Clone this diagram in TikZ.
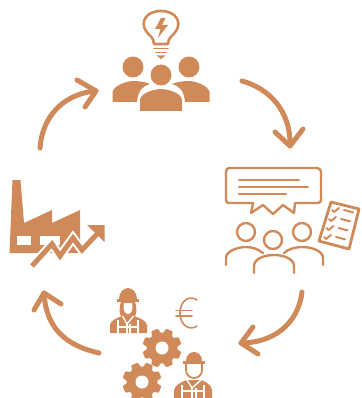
\documentclass[tikz,border=0pt]{standalone}
\definecolor{cop}{HTML}{D08A59}
\tikzset{
 x=1pt,y=-1pt,
 outl/.style={draw=cop,line width=2.4pt,line cap=round,line join=round,fill=none},
 thinl/.style={draw=cop,line width=2pt,line cap=round,line join=round,fill=none},
 cyc/.style={draw=cop,line width=5pt,line cap=round,line join=round,fill=none},
 gap/.style={draw=white,line width=1.3pt},
}
\newcommand{\gearshape}[2]{%
 \fill[cop] (#1,#2) circle (15.5);
 \foreach \a in {0,45,...,315}{
  \fill[cop,rounded corners=1pt,shift={(#1,#2)},rotate=\a+22.5] (13,-5) -- (19.5,-3.6) -- (19.5,3.6) -- (13,5) -- cycle;
 }
 \fill[white] (#1,#2) circle (6.5);}
\begin{document}
\begin{tikzpicture}
\useasboundingbox (0,0) rectangle (361,398);
% cycle arrows
\coordinate (a1s) at (242,81); \coordinate (a1e) at (290,146);
\draw[cyc] (a1s) .. controls (268,88) and (291,110) .. (a1e);
\draw[cyc] (275,132) -- (a1e) -- (303,129);
\coordinate (a2s) at (40,148); \coordinate (a2e) at (96,91);
\draw[cyc] (a2s) .. controls (42,118) and (62,94) .. (a2e);
\draw[cyc] (77,80) -- (a2e) -- (85,107);
\coordinate (a3s) at (302,292); \coordinate (a3e) at (241,343);
\draw[cyc] (a3s) .. controls (298,325) and (272,343) .. (a3e);
\draw[cyc] (253,327) -- (a3e) -- (258,354);
\coordinate (a4s) at (99,353); \coordinate (a4e) at (44,293);
\draw[cyc] (a4s) .. controls (68,346) and (46,330) .. (a4e);
\draw[cyc] (34,310) -- (a4e) -- (61,304);
% top: bulb
\draw[thinl,line width=2.6pt] (154,44) .. controls (154,37) and (149,36) .. (146,31)
 .. controls (140,22) and (146,11) .. (161,11) .. controls (176,11) and (182,22) .. (176,31)
 .. controls (173,36) and (168,37) .. (168,44) -- cycle;
\draw[thinl,line width=1.8pt] (154,48.5) -- (168,48.5) (156,52.5) -- (166,52.5);
\fill[cop] (156.5,55.5) -- (165.5,55.5) -- (161,59) -- cycle;
\fill[cop] (161,18) -- (155,29) -- (160.5,29) -- (158,38) -- (168,25) -- (162,25) -- (165.5,18) -- cycle;
% top: people
\fill[cop] (133,67) circle (10.5);
\fill[cop] (189,67) circle (10.5);
\fill[cop] (161,75) circle (10.5);
\fill[cop] (112.5,102) -- (112.5,92) .. controls (114,85) and (128,81) .. (133,81) .. controls (139,81) and (146,82) .. (150,84) .. controls (143,86) and (138,90) .. (137,102) -- cycle;
\fill[cop] (209.5,102) -- (209.5,92) .. controls (208,85) and (194,81) .. (189,81) .. controls (183,81) and (176,82) .. (172,84) .. controls (179,86) and (184,90) .. (185,102) -- cycle;
\fill[cop] (140,111) -- (140,100) .. controls (140,93) and (155,89) .. (161,89) .. controls (167,89) and (182,93) .. (182,100) -- (182,111) -- cycle;
% right: speech bubble
\draw[outl] (229,168) -- (317,168) .. controls (320,168) and (321,170) .. (321,172) -- (321,200) .. controls (321,202) and (320,203) .. (317,203)
 -- (295,203) -- (294,213) -- (283,205) -- (273,214) -- (263,205) -- (251,213) -- (253,203) -- (229,203)
 .. controls (227,203) and (226,202) .. (226,200) -- (226,172) .. controls (226,170) and (227,168) .. (229,168) -- cycle;
\draw[outl] (239,180) -- (299,180) (239,187) -- (308,187) (239,194) -- (286,194);
% right: people
\draw[outl] (246,232) circle (9);
\draw[outl] (273,240) circle (9);
\draw[outl] (302,232) circle (9);
\draw[outl] (226,265) -- (226,258) .. controls (226,251) and (238,247) .. (246,247) .. controls (252,247) and (258,249) .. (263,253);
\draw[outl] (323,265) -- (323,258) .. controls (323,251) and (312,247) .. (302,247) .. controls (296,247) and (288,249) .. (284,253);
\draw[outl] (254,273) -- (254,266) .. controls (254,259) and (264,255) .. (274,255) .. controls (284,255) and (294,259) .. (294,266) -- (294,273);
% right: checklist
\draw[outl,line width=2.8pt] (331,202) -- (359,209) -- (349,249) -- (319,241) -- cycle;
\foreach \xa/\ya in {332/210,329/219,326.5/228,324/237}{
 \draw[thinl] (\xa,\ya) -- (\xa+2,\ya+2) -- (\xa+7,\ya-2);
 \draw[thinl] (\xa+12,\ya) -- (\xa+21,\ya+2.3);
}
% factory
\fill[cop] (12.5,180) -- (20.5,180) -- (24,223) -- (52,210) -- (52,223) -- (80,210) -- (80,253) -- (9.5,253) -- cycle;
\fill[white] (17,236) rectangle (31,245);
\fill[white] (40,236) rectangle (60,245);
% white halo + arrow graph
\draw[white,line width=9pt,line join=miter] (32,266) -- (52,244) -- (60,256) -- (73,238) -- (82,250) -- (98,233);
\draw[cop,line width=5pt,line join=miter] (32,266) -- (52,244) -- (60,256) -- (73,238) -- (82,250) -- (98,233);
\fill[cop] (87,225) -- (104.5,225) -- (104.5,242) -- cycle;
% bottom: engineer woman
\fill[cop] (119,299) .. controls (119,293) and (123,288) .. (128,288) .. controls (133,288) and (137,293) .. (137,299) -- cycle;
\fill[cop] (117,299) -- (139,299) -- (139,301.5) -- (117,301.5) -- cycle;
\fill[cop] (121,301.5) -- (135,301.5) .. controls (137,309) and (137,313) .. (135,316) -- (121,316) .. controls (119,313) and (119,309) .. (121,301.5) -- cycle;
\fill[white] (124,303) -- (132,303) .. controls (133.5,309) and (131.5,314) .. (128,314) .. controls (124.5,314) and (122.5,309) .. (124,303) -- cycle;
\fill[cop] (110,333) -- (110,325) .. controls (111,320) and (117,318) .. (122,316) -- (134,316) .. controls (139,318) and (146,320) .. (147,325) -- (147,333) -- cycle;
\draw[gap] (118,320) -- (118,333) (138,320) -- (138,333);
\draw[gap] (122.5,316) -- (127,324) -- (133.5,316);
\draw[gap] (127,324) -- (127,333) (130,324) -- (130,333);
\draw[gap] (118,327) -- (138,327);
% euro
\draw[cop,line width=1.6pt,line cap=round] (197,300) .. controls (190,295) and (180,300) .. (180,313) .. controls (180,326) and (190,331) .. (197,326);
\draw[cop,line width=1.6pt,line cap=round] (176,310.5) -- (192,310.5) (176,316) -- (192,316);
% gears
\gearshape{162}{348}
\gearshape{142}{382}
% engineer man
\fill[cop] (186,361) .. controls (186,356) and (189,352) .. (194,352) .. controls (199,352) and (202,356) .. (202,361) -- cycle;
\fill[cop] (183,360.5) -- (205,360.5) -- (205,363.5) -- (183,363.5) -- cycle;
\draw[cop,line width=1.8pt] (186,364) -- (186,370) .. controls (186,375) and (190,378) .. (194,378) .. controls (198,378) and (202,375) .. (202,370) -- (202,364);
\fill[cop] (174,398) -- (174,390) .. controls (175,385) and (181,382) .. (187,380) -- (201,380) .. controls (207,382) and (211,385) .. (212,390) -- (212,398) -- cycle;
\draw[gap] (182,385) -- (182,398) (204,385) -- (204,398);
\draw[gap] (187,380) -- (192,388) -- (201,380);
\draw[gap] (192,388) -- (192,398) (196,388) -- (196,398);
\draw[gap] (182,391) -- (204,391);
\end{tikzpicture}
\end{document}
